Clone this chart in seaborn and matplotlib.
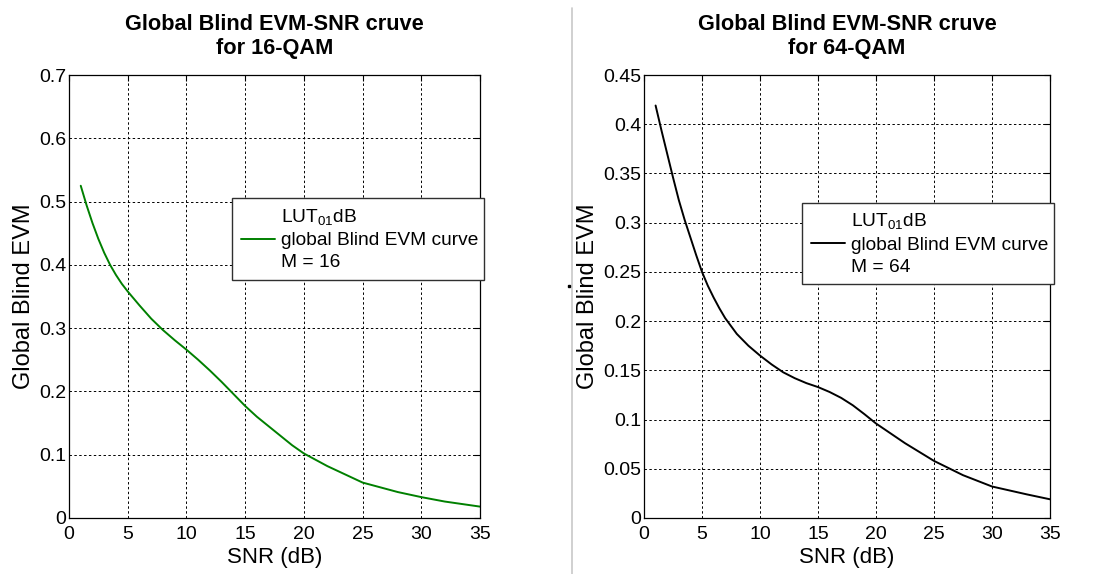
import numpy as np
import pandas as pd
import matplotlib
matplotlib.use("Agg")
import matplotlib.pyplot as plt
from matplotlib.lines import Line2D
import seaborn as sns

# SNR (dB) sample points and blind EVM values for each constellation
snr_16 = [1, 1.5, 2, 2.5, 3, 3.5, 4, 4.5, 5, 6, 7, 8, 9, 10, 11, 12, 13, 14, 15,
          16, 17, 18, 19, 20, 22, 25, 28, 30, 32, 35]
evm_16 = [0.525, 0.494, 0.466, 0.441, 0.419, 0.400, 0.384, 0.370, 0.358, 0.336,
          0.315, 0.297, 0.281, 0.266, 0.250, 0.233, 0.215, 0.196, 0.177, 0.160,
          0.145, 0.130, 0.115, 0.102, 0.082, 0.056, 0.041, 0.033, 0.026, 0.018]

snr_64 = [1, 1.5, 2, 2.5, 3, 3.5, 4, 4.5, 5, 5.5, 6, 6.5, 7, 7.5, 8, 9, 10, 11,
          12, 13, 14, 15, 16, 17, 18, 19, 20, 22.5, 25, 27.5, 30, 33, 35]
evm_64 = [0.419, 0.394, 0.370, 0.346, 0.323, 0.303, 0.285, 0.267, 0.250, 0.236,
          0.224, 0.213, 0.203, 0.195, 0.187, 0.175, 0.165, 0.156, 0.148, 0.142,
          0.137, 0.133, 0.128, 0.122, 0.1145, 0.1055, 0.096, 0.076, 0.058,
          0.0435, 0.032, 0.024, 0.019]

titles = ["Global Blind EVM-SNR cruve\nfor 16-QAM", "Global Blind EVM-SNR cruve\nfor 64-QAM"]
legend_labels = ["LUT$_{01}$dB\nglobal Blind EVM curve\nM = 16",
                 "LUT$_{01}$dB\nglobal Blind EVM curve\nM = 64"]
x_ticks = [0, 5, 10, 15, 20, 25, 30, 35]
y_ticks_16 = [0, 0.1, 0.2, 0.3, 0.4, 0.5, 0.6, 0.7]
y_ticks_64 = [0, 0.05, 0.1, 0.15, 0.2, 0.25, 0.3, 0.35, 0.4, 0.45]

sns.set_style("white")
plt.rcParams["font.family"] = ["Liberation Sans", "DejaVu Sans"]
plt.rcParams["mathtext.fontset"] = "custom"
plt.rcParams["mathtext.rm"] = "Liberation Sans"
plt.rcParams["mathtext.it"] = "Liberation Sans"
plt.rcParams["text.color"] = "black"
plt.rcParams["axes.labelcolor"] = "black"
plt.rcParams["xtick.color"] = "black"
plt.rcParams["ytick.color"] = "black"

W, H = 1101, 574
fig = plt.figure(figsize=(W / 100, H / 100), dpi=100)
fig.patch.set_facecolor("white")

def box(x0, y0, x1, y1):
    return [x0 / W, 1 - y1 / H, (x1 - x0) / W, (y1 - y0) / H]

ax1 = fig.add_axes(box(69, 75, 480, 518))
ax2 = fig.add_axes(box(644, 75, 1050, 518))

panels = [
    (ax1, snr_16, evm_16, "#008000", titles[0], legend_labels[0], y_ticks_16, 0.7,
     (232, 196, 484, 282)),
    (ax2, snr_64, evm_64, "#000000", titles[1], legend_labels[1], y_ticks_64, 0.45,
     (802, 200, 1054, 287)),
]

for ax, xs, ys, color, title, label, yt, ymax, lbox in panels:
    df = pd.DataFrame({"SNR": xs, "EVM": ys})
    sns.lineplot(data=df, x="SNR", y="EVM", ax=ax, color=color, linewidth=1.4,
                 label=label, legend=False)
    ax.set_xlim(0, 35)
    ax.set_ylim(0, ymax)
    ax.set_xticks(x_ticks)
    ax.set_yticks(yt)
    ax.set_yticklabels([f"{v:g}" for v in yt])
    ax.grid(True, color="black", linestyle=(0, (2.5, 2.5)), linewidth=0.7)
    ax.tick_params(direction="in", length=4, width=0.8, labelsize=14,
                   top=True, right=True, colors="black")
    ax.tick_params(axis="x", pad=6)
    ax.tick_params(axis="y", pad=2)
    for s in ax.spines.values():
        s.set_color("black")
        s.set_linewidth(0.9)
    ax.set_xlabel("SNR (dB)", fontsize=16, labelpad=3, color="black")
    ax.set_ylabel("Global Blind EVM", fontsize=17, labelpad=3, color="black")
    ax.set_title(title, fontsize=15.7, fontweight="bold", pad=15, linespacing=1.2,
                 color="black")
    # legend frame positioned in axes coordinates
    bx0, by0, bx1, by1 = lbox
    pos = ax.get_position()
    lx = (bx0 / W - pos.x0) / pos.width
    ly = ((1 - by1 / H) - pos.y0) / pos.height
    lw = (bx1 - bx0) / W / pos.width
    lh = (by1 - by0) / H / pos.height
    handles, labels = ax.get_legend_handles_labels()
    leg = ax.legend(handles, labels, loc="center", bbox_to_anchor=(lx, ly, lw, lh),
                    mode="expand", fontsize=13.8, frameon=True, fancybox=False,
                    edgecolor="#303030", handlelength=1.8, handletextpad=0.3,
                    borderpad=0.45, borderaxespad=0, labelspacing=0.2)
    for t in leg.get_texts():
        t.set_linespacing(1.4)
        t.set_color("black")
    leg.get_frame().set_linewidth(1.0)
    leg.get_frame().set_alpha(1)

# separator between the two panels
fig.add_artist(Line2D([572 / W, 572 / W], [0, 1 - 8 / H], color="#c8c8c8",
                      linewidth=1.2, transform=fig.transFigure))
fig.add_artist(Line2D([569 / W], [1 - 286 / H], marker="s", markersize=1.5,
                      color="black", linestyle="none", transform=fig.transFigure))

fig.savefig("out.png", dpi=100, facecolor="white")
